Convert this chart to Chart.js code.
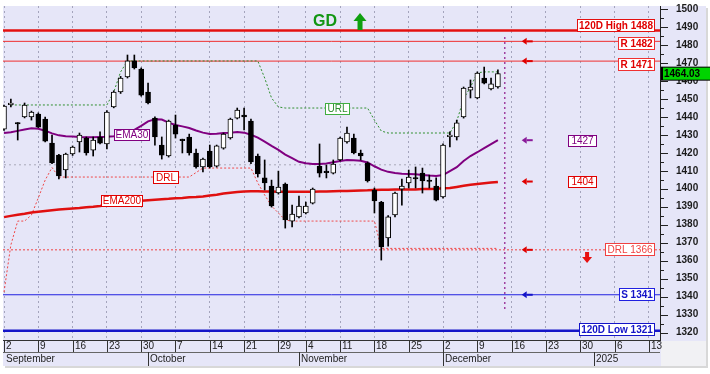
<!DOCTYPE html>
<html lang="en">
<head>
<meta charset="UTF-8">
<title>Daily candles</title>
<style>
  html, body { margin: 0; padding: 0; background: #fff; }
  #wrap { width: 710px; height: 374px; position: relative; }
</style>
<script src="https://cdn.jsdelivr.net/npm/chart.js"></script>
</head>
<body>
<div id="wrap"><canvas id="chart"></canvas></div>
<script>
// trading day index, 0 = Sep 2
const opens  = [1433.2,1446.8,1436.6,1439.9,1439.9,1441.6,1438.8,1425.4,1418.7,1410.4,1419.3,1426.0,1428.2,1421.5,1428.8,1424.9,1445.5,1453.8,1462.2,1471.1,
                1466.6,1453.8,1439.3,1424.3,1418.2,1435.4,1427.4,1428.8,1419.9,1412.1,1421.0,1412.6,1422.6,1428.2,1439.3,1441.0,1437.7,1418.2,1406.0,1401.5,
                1397.6,1402.6,1382.0,1384.3,1386.5,1392.0,1412.6,1409.6,1408.7,1416.0,1426.0,1428.2,1419.9,1414.3,1399.3,1392.6,1372.6,1385.4,1399.8,1403.2,
                1406.0,1408.7,1404.6,1401.5,1395.4,1429.0,1428.8,1439.9,1454.9,1450.5,1461.6,1455.5,1456.6];
const highs  = [1446.5,1449.9,1436.8,1447.7,1443.2,1442.2,1439.9,1429.9,1419.2,1419.8,1423.8,1431.0,1428.8,1428.8,1431.6,1443.5,1454.5,1462.5,1474.4,1474.4,
                1467.2,1458.8,1440.0,1428.8,1438.2,1441.0,1427.6,1430.4,1422.1,1417.0,1424.3,1424.3,1431.0,1439.3,1444.9,1444.9,1438.8,1419.3,1416.0,1404.8,
                1409.8,1403.2,1390.9,1395.9,1392.6,1400.4,1424.9,1413.2,1416.0,1428.8,1434.3,1430.4,1421.5,1414.9,1400.4,1393.0,1385.0,1398.2,1405.4,1410.4,
                1412.1,1411.5,1407.6,1406.0,1425.0,1431.6,1438.2,1456.6,1460.5,1465.0,1467.7,1461.6,1466.1];
const lows   = [1432.5,1445.5,1427.1,1439.4,1438.2,1434.0,1426.0,1414.0,1405.4,1406.0,1418.5,1420.4,1418.7,1418.2,1424.9,1422.1,1445.0,1453.0,1461.6,1466.6,
                1451.5,1447.2,1424.3,1416.5,1417.6,1428.2,1419.9,1418.7,1411.5,1409.3,1411.5,1412.0,1422.0,1427.6,1438.8,1432.7,1414.0,1406.5,1399.3,1389.8,
                1397.0,1378.1,1378.7,1383.7,1386.0,1391.5,1406.5,1406.0,1408.2,1415.5,1425.4,1419.3,1416.0,1403.7,1386.5,1360.3,1368.0,1384.3,1390.9,1400.4,
                1400.4,1397.6,1400.4,1393.2,1394.8,1423.2,1427.1,1439.3,1450.5,1450.0,1458.3,1455.0,1456.0];
const closes = [1446.0,1447.4,1436.0,1446.6,1442.7,1434.3,1426.5,1414.3,1407.1,1419.3,1423.2,1429.9,1419.9,1427.1,1425.4,1442.7,1453.8,1461.6,1471.1,1467.2,
                1452.1,1447.7,1428.8,1418.7,1437.7,1430.4,1426.8,1419.9,1412.1,1416.5,1412.1,1423.8,1430.4,1438.8,1443.8,1439.9,1414.9,1408.2,1403.2,1390.4,
                1400.9,1382.6,1385.9,1390.4,1390.4,1399.8,1408.7,1409.0,1413.7,1428.2,1431.0,1419.9,1418.2,1404.3,1393.2,1367.6,1384.3,1397.6,1401.5,1406.5,
                1405.4,1404.3,1404.0,1393.7,1424.3,1429.6,1436.6,1456.0,1456.6,1464.4,1458.8,1458.3,1464.03];

const ema30  = [1431.0,1431.4,1432.2,1433.0,1433.7,1433.4,1432.3,1430.8,1429.7,1429.2,1429.0,1428.8,1428.7,1428.7,1428.8,1428.9,1429.2,1429.8,1430.8,1432.8,
                1435.0,1437.5,1438.6,1438.5,1436.8,1435.5,1434.7,1433.8,1432.4,1431.2,1430.5,1430.6,1431.0,1431.2,1431.6,1431.2,1430.0,1428.4,1426.2,1423.8,
                1421.6,1419.0,1417.0,1415.0,1414.2,1413.8,1413.7,1414.0,1414.7,1415.4,1416.0,1415.9,1415.6,1414.6,1412.5,1410.6,1409.4,1408.7,1408.4,1408.2,
                1408.0,1407.6,1407.3,1407.1,1407.6,1409.8,1412.0,1415.4,1418.2,1420.3,1422.6,1424.8,1427.0];
const ema200 = [1384.2,1384.9,1385.5,1386.1,1386.8,1387.2,1387.6,1388.0,1388.4,1388.7,1389.0,1389.3,1389.7,1390.0,1390.4,1390.9,1391.4,1391.9,1392.4,1392.9,
                1393.3,1393.6,1393.9,1394.2,1394.4,1394.7,1394.9,1395.2,1395.4,1395.7,1396.2,1396.7,1397.3,1397.8,1398.2,1398.5,1398.6,1398.6,1398.5,1398.4,
                1398.3,1398.3,1398.3,1398.3,1398.3,1398.3,1398.4,1398.5,1398.6,1398.7,1398.8,1398.9,1399.0,1399.1,1399.3,1399.4,1399.4,1399.5,1399.5,1399.6,
                1399.6,1399.8,1399.9,1400.0,1400.2,1400.4,1401.0,1401.6,1402.2,1402.6,1403.0,1403.4,1403.8];
const urlLine = [null,1446.6,1446.6,1446.6,1446.6,1446.6,1446.6,1446.6,1446.6,1446.6,1446.6,1446.6,1446.6,1446.6,1446.6,1446.6,1453.8,1465.0,1471.1,1471.1,
                1471.1,1471.1,1471.1,1471.1,1471.1,1471.1,1471.1,1471.1,1471.1,1471.1,1471.1,1471.1,1471.1,1471.1,1471.1,1471.1,1471.1,1471.1,1461.6,1450.5,
                1445.5,1444.9,1444.9,1444.9,1444.9,1444.9,1444.9,1444.9,1444.9,1444.9,1444.9,1444.9,1444.9,1444.9,1438.2,1432.1,1431.0,1431.0,1431.0,1431.0,
                1431.0,1431.0,1431.0,1431.0,1431.0,1431.0,1437.5,1450.0,1456.5,1464.5,1465.0,1465.0,1465.0];
const drlLine = [1342.5,1368.7,1382.0,1382.0,1385.4,1394.9,1404.8,1411.8,1406.5,1406.5,1406.5,1406.5,1406.5,1406.5,1406.5,1406.5,1406.5,1406.5,1406.5,1406.5,
                1406.5,1406.5,1406.5,1406.5,1406.5,1406.5,1406.5,1406.5,1409.0,1411.5,1411.5,1411.5,1411.5,1411.5,1411.5,1411.5,1411.5,1403.2,1396.5,1390.4,
                1386.5,1382.6,1382.0,1382.0,1382.0,1382.0,1382.0,1382.0,1382.0,1382.0,1382.0,1382.0,1382.0,1382.0,1382.0,1366.8,1366.8,1366.8,1366.8,1366.8,
                1366.8,1366.8,1366.8,1366.8,1366.8,1366.8,1366.8,1366.8,1366.8,1366.8,1366.8,1366.8,1366.8];
const oldLevel = 1413.3;

const xTickIdx    = [0,5,10,15,20,25,30,35,40,44,49,54,59,64,69,74,79,84,89,94];
const xTickLabels = ['2','9','16','23','30','7','14','21','29','4','11','18','25','2','9','16','23','30','6','13'];
const monthIdx    = [0,21,43,64,86];
const monthLabels = ['September','October','November','December','2025'];
const yTicks = [1320,1330,1340,1350,1360,1370,1380,1390,1400,1410,1420,1430,1440,1450,1460,1470,1480,1490,1500];

const levelValues = [1488,1482,1471,1366,1341,1321];
const levelNames  = ['120D High 1488','R 1482','R 1471','DRL 1366','S 1341','120D Low 1321'];
const lastPrice = 1464.03;
const ema30Last = 1427;
const ema200Last = 1404;

// ---- styles / positions (not data) ----
const X_MIN = -0.146, X_MAX = 95.63;
const Y_MIN = 1315.83, Y_MAX = 1501.67;
const RED = '#e00000', BLUE = '#1414c8', PURPLE = '#800080', GREEN = '#2f8f2f';
const levelStyle = [
  {color: '#e41010', width: 2.5, dash: [],  font: 'bold 10px Arial', text: RED,  shift: -5.5},
  {color: '#f03030', width: 1,   dash: [],  font: 'bold 10px Arial', text: RED,  shift: 1.5},
  {color: '#f03030', width: 1,   dash: [],  font: 'bold 10px Arial', text: RED,  shift: 2.5},
  {color: '#f04040', width: 1,   dash: [2,2], font: '10px Arial',   text: '#f04040', shift: -1},
  {color: '#2020e0', width: 1,   dash: [],  font: 'bold 10px Arial', text: BLUE, shift: -1},
  {color: BLUE,      width: 2.5, dash: [],  font: 'bold 10px Arial', text: BLUE, shift: -2}
];
const arrowIdx = 76.2;

const idx = closes.map((_, i) => i);
const pts = arr => arr.map((v, i) => ({x: i, y: v}));
const bodyColors = idx.map(i => closes[i] >= opens[i] ? '#ffffff' : '#000000');

const datasets = [];
levelValues.forEach((v, k) => {
  datasets.push({
    type: 'line', data: [{x: X_MIN, y: v}, {x: X_MAX, y: v}],
    borderColor: levelStyle[k].color, borderWidth: levelStyle[k].width,
    borderDash: levelStyle[k].dash, pointRadius: 0, order: 10
  });
});
datasets.push({type: 'line', data: [{x: 0, y: oldLevel}, {x: 64, y: oldLevel}],
  borderColor: '#a8a8b8', borderWidth: 1, borderDash: [2, 3], pointRadius: 0, order: 9});
datasets.push({type: 'line', data: pts(drlLine), borderColor: '#f04848', borderWidth: 1,
  borderDash: [2, 2], pointRadius: 0, order: 8});
datasets.push({type: 'line', data: pts(urlLine), borderColor: GREEN, borderWidth: 1,
  borderDash: [2, 2], pointRadius: 0, order: 8});
datasets.push({type: 'line', data: pts(ema200), borderColor: '#e01010', borderWidth: 2.5,
  pointRadius: 0, order: 6});
datasets.push({type: 'line', data: pts(ema30), borderColor: PURPLE, borderWidth: 2,
  pointRadius: 0, order: 6});
// vertical marker after last bar
datasets.push({type: 'line', data: [{x: 73, y: 1484.4}, {x: 73, y: 1331.4}],
  borderColor: '#a040a0', borderWidth: 1.5, borderDash: [2, 3], pointRadius: 0, order: 7});
// wicks
datasets.push({type: 'bar', data: idx.map(i => ({x: i, y: [lows[i], highs[i]]})),
  backgroundColor: '#000', barThickness: 1, grouped: false, order: 2});
// bodies
datasets.push({type: 'bar', data: idx.map(i => ({x: i, y: [opens[i], closes[i]]})),
  backgroundColor: bodyColors, borderColor: '#000', borderWidth: 1, borderSkipped: false,
  minBarLength: 1.5, barThickness: 5, grouped: false, order: 1});

function tagBox(ctx, text, x, y, o) {
  ctx.font = o.font;
  const w = Math.ceil(ctx.measureText(text).width) + 2 * (o.padX || 1.5);
  const h = o.h || 11;
  let left = o.align === 'right' ? x - w : (o.align === 'center' ? x - w / 2 : x);
  left = Math.round(left) + 0.5;
  const top = Math.round(y - h / 2) + 0.5;
  ctx.fillStyle = '#fff';
  ctx.fillRect(left, top, w, h);
  ctx.strokeStyle = o.border; ctx.lineWidth = 1; ctx.setLineDash([]);
  ctx.strokeRect(left, top, w, h);
  ctx.fillStyle = o.color; ctx.textAlign = 'center'; ctx.textBaseline = 'middle';
  ctx.fillText(text, left + w / 2, top + h / 2 + 0.5);
}

function leftArrow(ctx, x, y, color) {
  ctx.fillStyle = color;
  ctx.beginPath();
  ctx.moveTo(x - 5, y); ctx.lineTo(x, y - 3.5); ctx.lineTo(x, y + 3.5); ctx.closePath(); ctx.fill();
  ctx.fillRect(x, y - 1, 6, 2);
}

const decor = {
  id: 'decor',
  beforeDraw(chart) {
    const {ctx, chartArea: a, width, height} = chart;
    ctx.save();
    ctx.fillStyle = '#ffffff'; ctx.fillRect(0, 0, width, height);
    ctx.fillStyle = '#e6e6f8'; ctx.fillRect(a.left, a.top, width - 4 - a.left, height - 8 - a.top);
    ctx.fillStyle = '#f1f1f4'; ctx.fillRect(a.right + 1, a.bottom + 1, width - 5 - a.right, height - 9 - a.bottom);
    ctx.fillStyle = '#d8d8d8';
    ctx.fillRect(width - 4, a.top + 2, 2, height - 8 - a.top);
    ctx.fillRect(a.left + 2, height - 8, width - 6 - a.left, 2);
    ctx.restore();
  },
  afterDatasetsDraw(chart) {
    const {ctx, chartArea: a, scales: {x, y}} = chart;
    const X = v => x.getPixelForValue(v), Y = v => y.getPixelForValue(v);
    ctx.save();
    // right-side level tags
    levelValues.forEach((v, k) => {
      const s = levelStyle[k];
      tagBox(ctx, levelNames[k], a.right - 6, Y(v) + s.shift,
        {font: s.font, color: s.text, border: s.color, align: 'right', h: 12, padX: 1.5});
    });
    // pointer arrows
    const ax = X(arrowIdx);
    leftArrow(ctx, ax, Y(1482), RED);
    leftArrow(ctx, ax, Y(1471), RED);
    leftArrow(ctx, ax, Y(ema30Last), '#8a1a9a');
    leftArrow(ctx, ax, Y(ema200Last), RED);
    leftArrow(ctx, ax, Y(1366), RED);
    leftArrow(ctx, ax, Y(1341), BLUE);
    tagBox(ctx, String(ema30Last), X(84.3), Y(ema30Last), {font: '10px Arial', color: PURPLE, border: PURPLE, align: 'center', h: 11, padX: 2.5});
    tagBox(ctx, String(ema200Last), X(84.3), Y(ema200Last), {font: '10px Arial', color: RED, border: RED, align: 'center', h: 11, padX: 2.5});
    // inline series labels
    tagBox(ctx, 'URL', X(48.5), Y(urlLine[48]), {font: '10px Arial', color: GREEN, border: '#3fae3f', align: 'center', h: 11, padX: 1.5});
    tagBox(ctx, 'EMA30', X(18.6), Y(ema30[18]) + 1, {font: '10px Arial', color: PURPLE, border: PURPLE, align: 'center', h: 11, padX: 1});
    tagBox(ctx, 'DRL', X(23.6), Y(drlLine[23]), {font: '10px Arial', color: RED, border: RED, align: 'center', h: 12, padX: 2});
    tagBox(ctx, 'EMA200', X(17.1), Y(ema200[17]) - 3, {font: '10px Arial', color: RED, border: RED, align: 'center', h: 11, padX: 1});
    // GD + green up arrow
    ctx.fillStyle = '#129612';
    ctx.font = 'bold 16px Arial'; ctx.textAlign = 'center'; ctx.textBaseline = 'middle';
    ctx.fillText('GD', X(46.8), Y(1493.3) + 1);
    const gx = X(51.9), gt = Y(1497.8), gb = Y(1488.3);
    ctx.fillStyle = '#10a010';
    ctx.beginPath(); ctx.moveTo(gx, gt); ctx.lineTo(gx + 6.5, gt + 8); ctx.lineTo(gx - 6.5, gt + 8); ctx.closePath(); ctx.fill();
    ctx.fillRect(gx - 2.5, gt + 7, 5, gb - gt - 7);
    // red down arrow
    const rx = X(85), rt = Y(1364.8), rb = Y(1358.7);
    ctx.fillStyle = '#e81010';
    ctx.fillRect(rx - 2, rt, 4, 6);
    ctx.beginPath(); ctx.moveTo(rx - 5, rt + 5); ctx.lineTo(rx + 5, rt + 5); ctx.lineTo(rx, rb); ctx.closePath(); ctx.fill();
    ctx.restore();
  },
  afterDraw(chart) {
    const {ctx, chartArea: a, scales: {x, y}, height} = chart;
    const X = v => x.getPixelForValue(v), Y = v => y.getPixelForValue(v);
    ctx.save();
    // y axis tick marks
    ctx.strokeStyle = '#222'; ctx.lineWidth = 1;
    ctx.beginPath();
    for (let v = 1320; v <= 1500; v += 5) {
      const py = Math.round(Y(v)) + 0.5;
      ctx.moveTo(a.right, py); ctx.lineTo(a.right + (v % 10 === 0 ? 8 : 4), py);
    }
    ctx.stroke();
    // x axis band
    const rowMid = a.bottom + 12, bandEnd = height - 8;
    ctx.strokeStyle = '#666';
    ctx.beginPath(); ctx.moveTo(a.left, rowMid + 0.5); ctx.lineTo(a.right, rowMid + 0.5); ctx.stroke();
    ctx.strokeStyle = '#333';
    ctx.font = '10px Arial'; ctx.fillStyle = '#222'; ctx.textAlign = 'left'; ctx.textBaseline = 'middle';
    ctx.beginPath();
    xTickIdx.forEach((v, k) => {
      const px = Math.round(X(v)) + 0.5;
      ctx.moveTo(px, a.bottom); ctx.lineTo(px, rowMid);
    });
    monthIdx.forEach((v, k) => {
      if (k === 0) return;
      const px = Math.round(X(v)) + 0.5;
      ctx.moveTo(px, rowMid); ctx.lineTo(px, bandEnd);
    });
    ctx.stroke();
    xTickIdx.forEach((v, k) => ctx.fillText(xTickLabels[k], Math.round(X(v)) + 2, a.bottom + 6.5));
    monthIdx.forEach((v, k) => ctx.fillText(monthLabels[k], Math.round(X(v)) + 2, rowMid + 7));
    // last price tag
    const py = Y(lastPrice);
    ctx.fillStyle = '#000'; ctx.fillRect(a.right + 1, py - 7, 49, 14);
    ctx.fillStyle = '#00d400'; ctx.fillRect(a.right + 3, py - 6, 47, 12);
    ctx.fillStyle = '#000'; ctx.font = 'bold 10px Arial'; ctx.textAlign = 'left';
    ctx.fillText(lastPrice.toFixed(2), a.right + 4, py + 0.5);
    ctx.restore();
  }
};

new Chart(document.getElementById('chart'), {
  type: 'line',
  data: {datasets: datasets},
  options: {
    responsive: true,
    maintainAspectRatio: false,
    animation: false,
    events: [],
    layout: {padding: {left: 3, top: 6, right: 4, bottom: 8}},
    plugins: {legend: {display: false}, tooltip: {enabled: false}},
    elements: {line: {tension: 0}},
    scales: {
      x: {
        type: 'linear', min: X_MIN, max: X_MAX, offset: false,
        afterBuildTicks: s => { s.ticks = xTickIdx.map(v => ({value: v})); },
        afterFit: s => { s.height = 26; },
        ticks: {display: false, padding: 0},
        grid: {color: '#a4a4bc', drawTicks: false, offset: false},
        border: {color: '#333', dash: [2, 3]}
      },
      y: {
        type: 'linear', position: 'right', min: Y_MIN, max: Y_MAX,
        afterBuildTicks: s => { s.ticks = yTicks.map(v => ({value: v})); },
        afterFit: s => { s.width = 46; },
        ticks: {padding: 0, color: '#1a1a1a', font: {family: 'Arial', size: 10, weight: 'bold'},
          callback: v => String(v)},
        grid: {drawOnChartArea: false, tickLength: 16, tickColor: 'rgba(0,0,0,0)'},
        border: {color: '#222'}
      }
    }
  },
  plugins: [decor]
});
</script>
</body>
</html>
